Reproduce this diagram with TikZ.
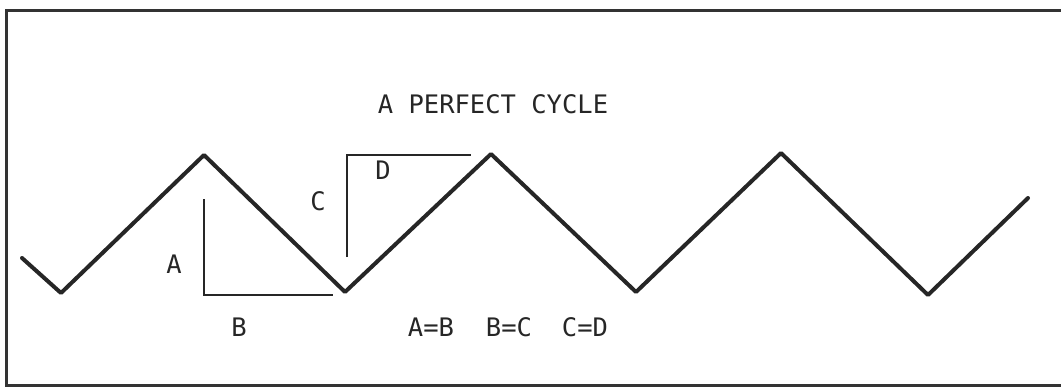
\documentclass[tikz,border=0pt]{standalone}
\usepackage{fontspec}
\newfontfamily\typefont{DejaVu Sans Mono}
\begin{document}
\begin{tikzpicture}[x=1pt,y=-1pt,
  wave/.style={line width=4pt,color=black!85,line join=round,line cap=round},
  guide/.style={line width=2.2pt,color=black!85},
  frameline/.style={line width=3pt,color=black!80},
  lbl/.style={font=\typefont\fontsize{25.5}{25.5}\selectfont,text=black!85,inner sep=0pt,anchor=center}]
\useasboundingbox (0,0) rectangle (1061,389);
% frame (open on the right)
\coordinate (fTR) at (1061,10);
\coordinate (fTL) at (6,10);
\coordinate (fBL) at (6,385);
\coordinate (fBR) at (1061,385);
\draw[frameline] (fTR) -- (fTL) -- (fBL) -- (fBR);
% wave vertices
\coordinate (w0) at (22,258);
\coordinate (t1) at (61,293);
\coordinate (p1) at (204,155);
\coordinate (t2) at (345,292);
\coordinate (p2) at (491,154);
\coordinate (t3) at (636,292);
\coordinate (p3) at (781,153);
\coordinate (t4) at (928,295);
\coordinate (w9) at (1028,198);
\draw[wave] (w0) -- (t1) -- (p1) -- (t2) -- (p2) -- (t3) -- (p3) -- (t4) -- (w9);
% guide lines A/B
\coordinate (aTop) at (204,199);
\coordinate (abCorner) at (204,295);
\coordinate (bEnd) at (333,295);
\draw[guide] (aTop) -- (abCorner) -- (bEnd);
% guide lines C/D
\coordinate (cBot) at (347,257);
\coordinate (cdCorner) at (347,155);
\coordinate (dEnd) at (471,155);
\draw[guide] (cBot) -- (cdCorner) -- (dEnd);
% labels
\node[lbl] (title) at (493,104) {A PERFECT CYCLE};
\node[lbl] (la) at (174,264) {A};
\node[lbl] (lb) at (239,327) {B};
\node[lbl] (lc) at (318,201) {C};
\node[lbl] (ld) at (383,170) {D};
\node[lbl] (eq1) at (431,327) {A=B};
\node[lbl] (eq2) at (509,327) {B=C};
\node[lbl] (eq3) at (585,327) {C=D};
\end{tikzpicture}
\end{document}
